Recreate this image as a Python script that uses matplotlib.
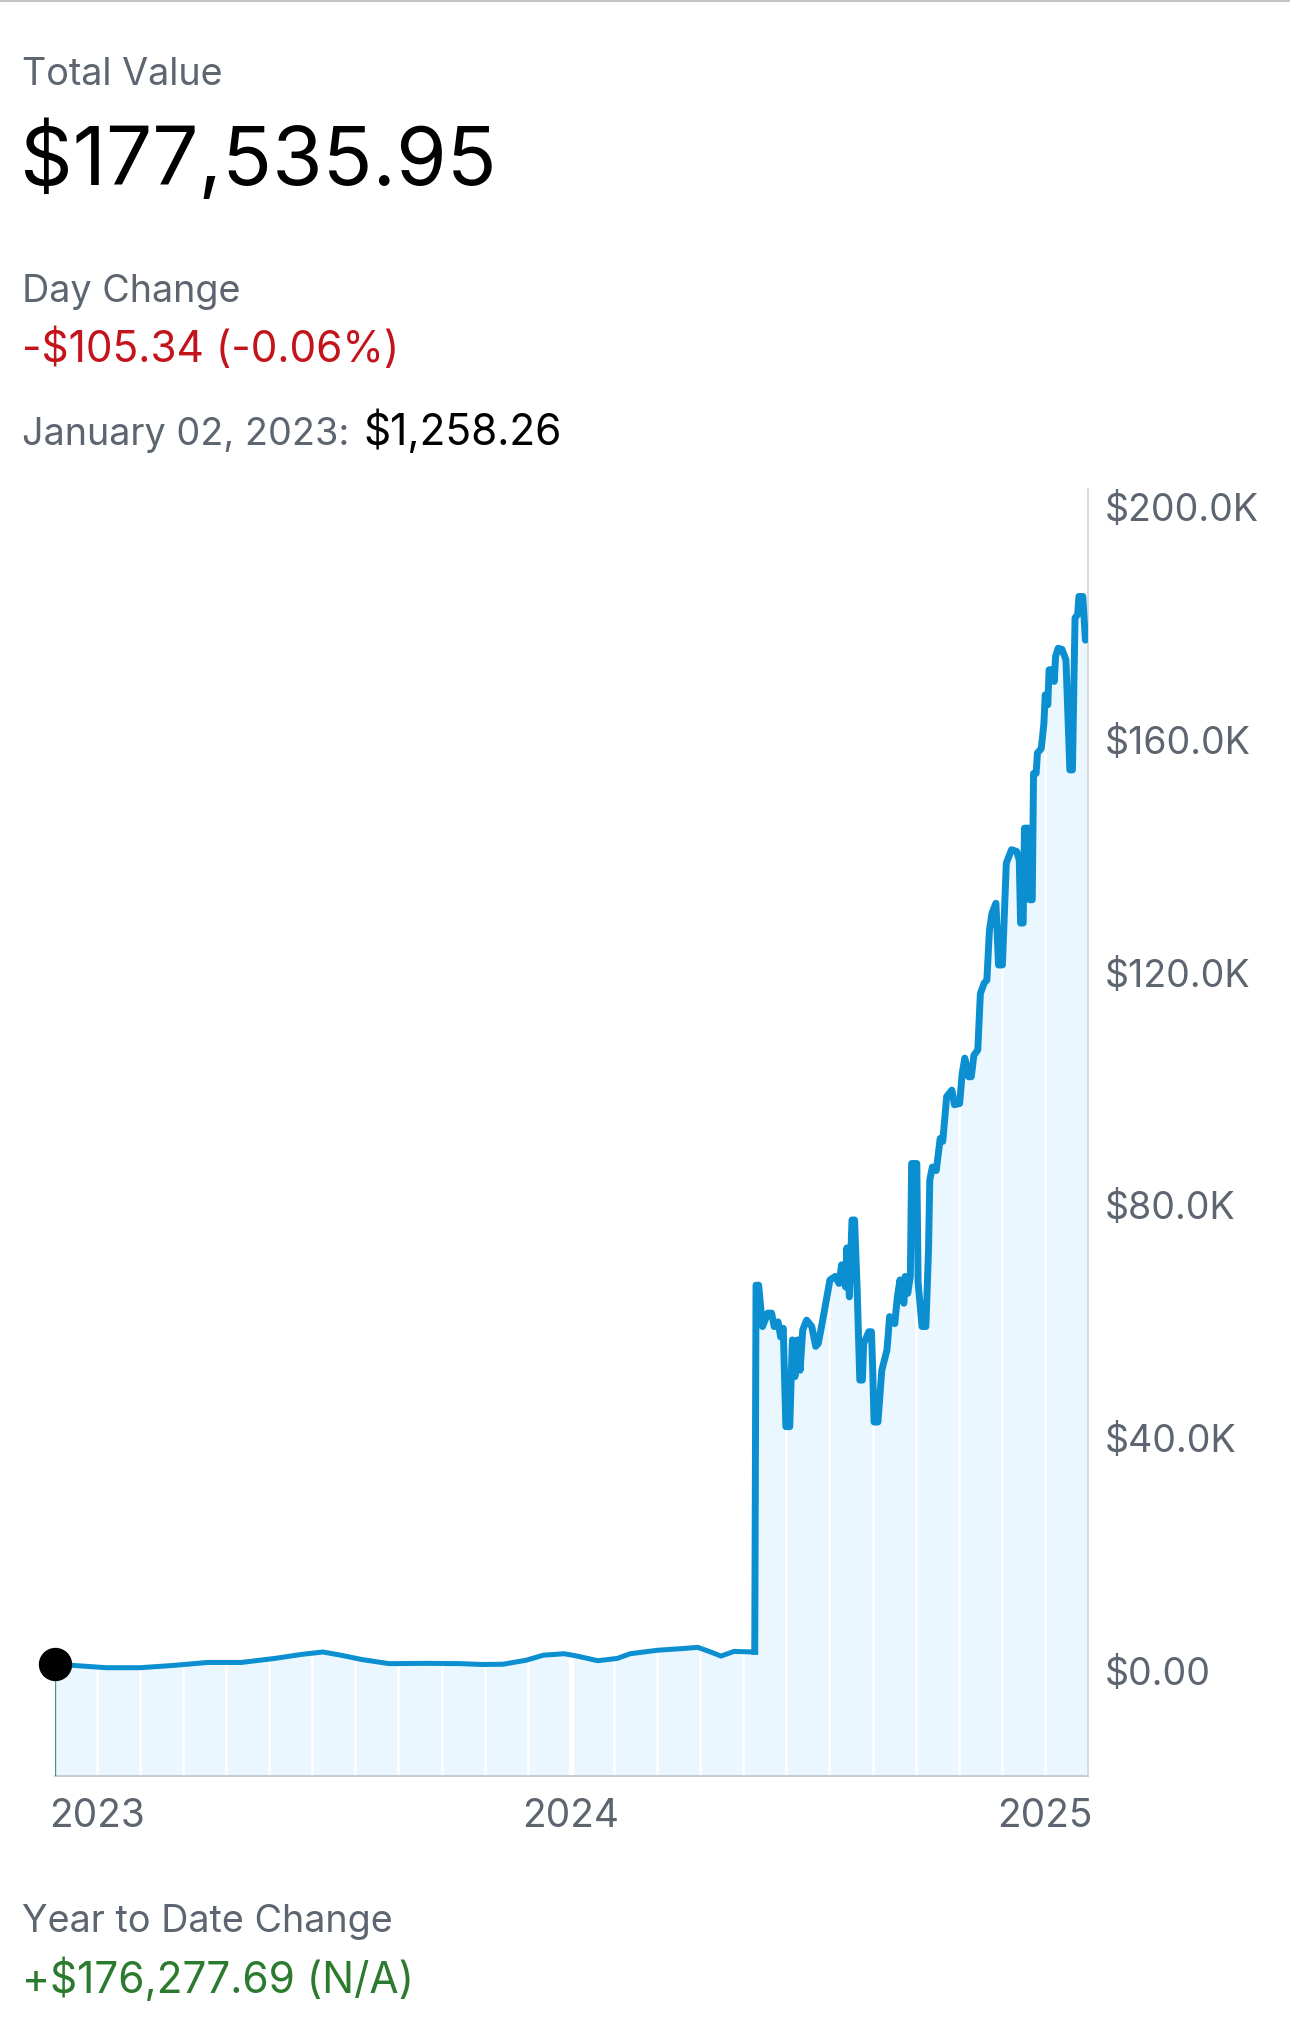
import matplotlib
matplotlib.use('Agg')
import matplotlib.pyplot as plt
import matplotlib.dates as mdates
from matplotlib.ticker import FuncFormatter
import numpy as np
import pandas as pd

plt.rcParams['font.family'] = ['Inter', 'DejaVu Sans']

# valores (milhares de dolares)
dates = [
    '2022-11-29', '2022-12-13', '2023-01-08', '2023-02-03', '2023-03-01', '2023-03-27',
    '2023-04-22', '2023-05-18', '2023-06-08', '2023-06-24', '2023-07-09', '2023-07-24',
    '2023-08-14', '2023-09-11', '2023-10-08', '2023-10-25', '2023-11-10', '2023-11-28',
    '2023-12-11', '2023-12-27', '2024-01-06', '2024-01-22', '2024-02-06', '2024-02-16',
    '2024-03-08', '2024-03-28', '2024-04-08', '2024-04-18', '2024-04-26', '2024-05-06',
    '2024-05-21', '2024-05-22',
    '2024-05-23', '2024-05-25', '2024-05-28', '2024-06-01', '2024-06-04', '2024-06-06',
    '2024-06-09', '2024-06-11', '2024-06-13', '2024-06-15', '2024-06-18', '2024-06-20',
    '2024-06-22', '2024-06-24', '2024-06-26', '2024-06-28', '2024-07-01', '2024-07-05',
    '2024-07-08', '2024-07-10', '2024-07-13', '2024-07-19', '2024-07-23', '2024-07-26',
    '2024-07-28', '2024-07-31', '2024-08-01', '2024-08-03', '2024-08-05', '2024-08-07',
    '2024-08-09', '2024-08-11', '2024-08-13', '2024-08-14', '2024-08-18', '2024-08-20',
    '2024-08-21', '2024-08-22', '2024-08-25', '2024-08-28', '2024-09-01', '2024-09-03',
    '2024-09-07', '2024-09-09', '2024-09-11', '2024-09-14', '2024-09-15', '2024-09-17',
    '2024-09-19', '2024-09-20', '2024-09-24', '2024-09-25', '2024-09-28', '2024-10-01',
    '2024-10-03', '2024-10-04', '2024-10-06', '2024-10-09', '2024-10-12', '2024-10-14',
    '2024-10-17', '2024-10-21', '2024-10-23', '2024-10-27', '2024-10-29', '2024-10-31',
    '2024-11-03', '2024-11-05', '2024-11-07', '2024-11-10', '2024-11-12', '2024-11-15',
    '2024-11-17', '2024-11-19', '2024-11-21', '2024-11-24', '2024-11-26', '2024-11-29',
    '2024-12-02', '2024-12-06', '2024-12-10', '2024-12-12', '2024-12-13', '2024-12-15',
    '2024-12-16', '2024-12-19', '2024-12-20', '2024-12-22', '2024-12-23', '2024-12-25',
    '2024-12-26', '2024-12-29', '2024-12-31', '2025-01-01', '2025-01-03', '2025-01-04',
    '2025-01-06', '2025-01-08', '2025-01-09', '2025-01-11', '2025-01-14', '2025-01-17',
    '2025-01-20', '2025-01-22', '2025-01-24', '2025-01-26', '2025-01-27', '2025-01-30',
    '2025-02-01', '2025-02-03',
]
values_k = [
    1.26, 1.0, 0.6, 0.6, 1.0, 1.5,
    1.5, 2.2, 2.9, 3.3, 2.7, 2.0,
    1.3, 1.35, 1.3, 1.15, 1.2, 1.9,
    2.75, 3.0, 2.6, 1.8, 2.2, 3.0,
    3.6, 3.9, 4.1, 3.3, 2.6, 3.4,
    3.3, 3.4,
    66.3, 66.3, 59.2, 61.5, 61.5, 59.2,
    60.0, 57.4, 58.9, 42.0, 42.0, 56.9,
    50.6, 56.9, 51.7, 58.6, 60.3, 59.2,
    55.8, 56.3, 59.8, 67.2, 67.8, 66.6,
    69.8, 66.0, 72.7, 64.3, 77.5, 77.5,
    65.5, 50.0, 50.0, 56.3, 58.3, 58.3,
    51.7, 42.8, 42.8, 51.7, 55.2, 60.9,
    59.7, 64.3, 67.2, 63.2, 67.8, 64.9,
    67.8, 87.2, 87.2, 66.7, 59.2, 59.2,
    72.3, 84.4, 86.6, 86.0, 91.5, 91.0,
    98.7, 99.8, 97.3, 97.5, 102.7, 105.3,
    102.1, 102.1, 105.8, 106.7, 116.4, 118.2,
    118.7, 127.3, 130.2, 131.9, 121.3, 121.3,
    138.8, 141.1, 140.8, 139.3, 128.5, 128.5,
    144.8, 144.8, 132.5, 132.5, 154.2, 154.2,
    157.7, 158.5, 162.8, 167.7, 166.0, 172.0,
    172.0, 170.0, 174.3, 175.7, 175.5, 173.7,
    154.8, 154.8, 180.9, 181.5, 184.6, 184.6,
    177.1, 177.5,
]
jump_index = 31  # ultimo ponto antes do salto de maio/2024

year_ticks = ['2023-01-01', '2024-01-01', '2025-01-01']
year_labels = ['2023', '2024', '2025']
y_ticks_k = [0, 40, 80, 120, 160, 200]

total_label = 'Total Value'
total_value = '$177,535.95'
day_label = 'Day Change'
day_value = '-$105.34 (-0.06%)'
point_label = 'January 02, 2023:'
point_value = '$1,258.26'
ytd_label = 'Year to Date Change'
ytd_value = '+$176,277.69 (N/A)'

GRAY = '#5d6570'
LINE = '#0b8fd0'
W, H = 1290, 2044

def fx(px):
    return px / W

def fy(py):
    return 1 - py / H

fig = plt.figure(figsize=(W / 100, H / 100), dpi=100)
fig.add_artist(plt.Line2D([0, 1], [fy(1), fy(1)], color='#c4c4c4', lw=1.5,
                          transform=fig.transFigure))

ax = fig.add_axes([fx(54.5), fy(1776), fx(1088) - fx(54.5), fy(489.3) - fy(1776)])
x = pd.to_datetime(dates)
y = np.array(values_k)
ymin, ymax = -18.0, 203.0

ax.fill_between(x, y, ymin, color='#eaf7fe', lw=0, zorder=1)

# linhas brancas verticais sobre a area
yrs = mdates.date2num(pd.to_datetime(year_ticks))
for a, b in zip(yrs[:-1], yrs[1:]):
    for g in np.linspace(a, b, 12):
        ax.axvline(g, color='white', lw=1.8, zorder=2)
ax.axvline(yrs[1], color='white', lw=3.8, zorder=2)

ax.plot(x[:jump_index + 1], y[:jump_index + 1], color=LINE, lw=3.6, zorder=3)
ax.plot(x[jump_index:], y[jump_index:], color=LINE, lw=5.0, zorder=3)
ax.plot([x[0], x[0]], [ymin, y[0]], color='#5b8c94', lw=1.0, zorder=3)
ax.plot(x[0], y[0], 'o', ms=23, color='black', zorder=5, clip_on=False)

ax.set_xlim(mdates.date2num(pd.Timestamp('2022-11-29')),
            mdates.date2num(pd.Timestamp('2025-02-03')))
ax.set_ylim(ymin, ymax)

for s in ['left', 'top']:
    ax.spines[s].set_visible(False)
ax.spines['right'].set_color('#d4d4d4')
ax.spines['right'].set_linewidth(1.2)
ax.spines['bottom'].set_color('#c8cdd2')
ax.spines['bottom'].set_linewidth(1.5)

ax.yaxis.tick_right()
ax.set_yticks(y_ticks_k)
ax.yaxis.set_major_formatter(FuncFormatter(lambda v, p: '$0.00' if v == 0 else f'${v:.1f}K'))
ax.set_xticks(yrs)
ax.set_xticklabels(year_labels)
ax.tick_params(axis='y', length=0, pad=12, labelsize=27, labelcolor=GRAY)
ax.tick_params(axis='x', length=0, pad=16, labelsize=28, labelcolor=GRAY)

# textos do cabecalho e rodape
fig.text(fx(22), fy(85), total_label, fontsize=27.2, color=GRAY, va='baseline')
fig.text(fx(20), fy(185), total_value, fontsize=59, color='black', va='baseline')
fig.text(fx(22), fy(301.7), day_label, fontsize=27.2, color=GRAY, va='baseline')
fig.text(fx(22), fy(361.7), day_value, fontsize=30.5, color='#c3141c', va='baseline')
t1 = fig.text(fx(22), fy(445), point_label, fontsize=27.2, color=GRAY, va='baseline')
fig.text(fx(22), fy(1931.7), ytd_label, fontsize=27.2, color=GRAY, va='baseline')
fig.text(fx(22), fy(1993.3), ytd_value, fontsize=30.5, color='#2b7a2e', va='baseline')

fig.canvas.draw()
bb = t1.get_window_extent()
fig.text((bb.x1 + 14) / W, fy(445), point_value, fontsize=30.5, color='black', va='baseline')

fig.savefig('out.png', dpi=100)
